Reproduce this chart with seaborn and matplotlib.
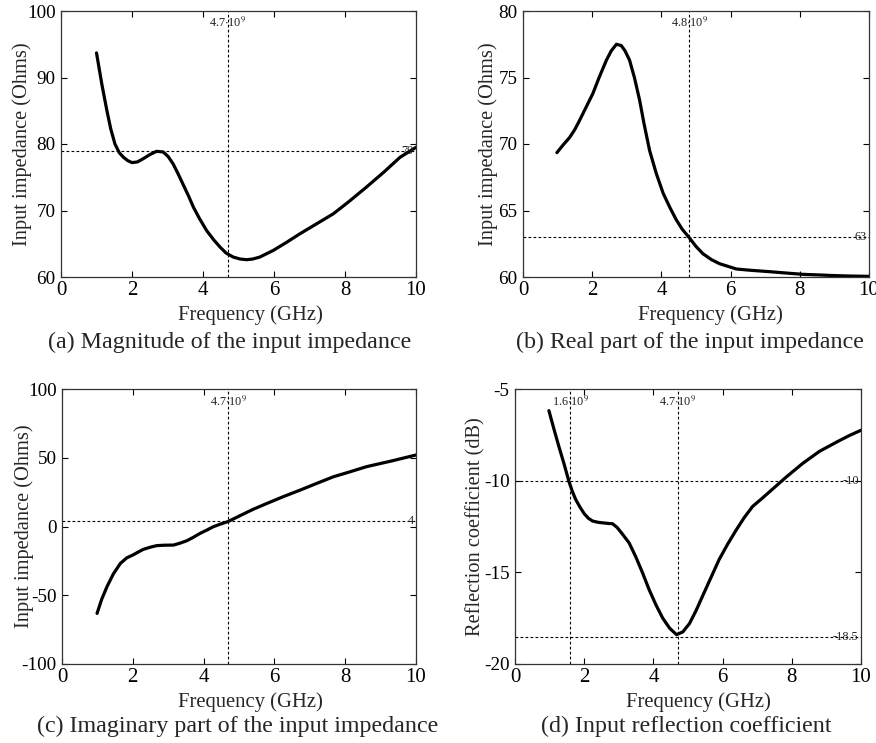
import matplotlib
matplotlib.use("Agg")
import matplotlib.pyplot as plt
import seaborn as sns
import pandas as pd

# ---------------- data ----------------
freq_a = [1.0, 1.15, 1.29, 1.4, 1.52, 1.64, 1.76, 1.88, 2.0, 2.15, 2.32, 2.5, 2.69, 2.88,
          3.02, 3.16, 3.3, 3.45, 3.6, 3.73, 3.9, 4.1, 4.3, 4.48, 4.65, 4.85, 5.05, 5.23,
          5.4, 5.6, 5.98, 6.35, 6.73, 7.2, 7.67, 8.1, 8.6, 9.1, 9.55, 10.0]
mag_a = [93.7, 89.0, 85.1, 82.3, 80.0, 78.7, 78.0, 77.5, 77.2, 77.3, 77.8, 78.4, 78.9, 78.8,
         78.1, 77.0, 75.5, 73.8, 72.1, 70.5, 68.8, 67.0, 65.6, 64.5, 63.6, 63.0, 62.7, 62.6,
         62.7, 63.0, 64.0, 65.2, 66.5, 68.0, 69.5, 71.3, 73.5, 75.8, 78.0, 79.5]

freq_b = [0.98, 1.15, 1.35, 1.5, 1.64, 1.83, 2.02, 2.2, 2.41, 2.55, 2.7, 2.84, 2.95, 3.08,
          3.22, 3.37, 3.5, 3.66, 3.85, 4.05, 4.25, 4.43, 4.6, 4.79, 5.0, 5.2, 5.45, 5.68,
          6.17, 6.6, 7.13, 7.6, 8.09, 8.6, 9.06, 9.5, 10.0]
real_b = [69.35, 69.9, 70.5, 71.1, 71.8, 72.8, 73.8, 75.0, 76.3, 77.0, 77.5, 77.4, 77.0, 76.3,
          75.0, 73.3, 71.5, 69.5, 67.8, 66.3, 65.2, 64.3, 63.6, 63.0, 62.3, 61.75, 61.3, 61.0,
          60.6, 60.5, 60.4, 60.3, 60.2, 60.15, 60.1, 60.07, 60.05]

freq_c = [0.99, 1.12, 1.27, 1.45, 1.65, 1.83, 2.02, 2.15, 2.3, 2.5, 2.68, 2.9, 3.15, 3.35,
          3.53, 3.7, 3.9, 4.1, 4.28, 4.48, 4.68, 4.85, 5.03, 5.4, 5.79, 6.25, 6.73, 7.2,
          7.67, 8.1, 8.6, 9.3, 10.0]
imag_c = [-63.2, -53.0, -43.8, -34.5, -26.8, -22.8, -20.5, -18.6, -16.6, -15.0, -13.9, -13.6,
          -13.5, -12.0, -10.3, -8.0, -5.0, -2.5, -0.1, 1.8, 3.5, 5.6, 7.9, 12.5, 16.8, 21.7,
          26.5, 31.4, 36.2, 39.5, 43.5, 47.6, 52.0]

freq_d = [0.98, 1.12, 1.27, 1.42, 1.56, 1.66, 1.76, 1.88, 2.0, 2.12, 2.24, 2.4, 2.53, 2.68,
          2.82, 2.95, 3.1, 3.3, 3.49, 3.68, 3.88, 4.08, 4.27, 4.47, 4.67, 4.85, 5.04, 5.23,
          5.42, 5.66, 5.9, 6.15, 6.39, 6.63, 6.87, 7.12, 7.36, 7.6, 7.84, 8.32, 8.8, 9.29,
          9.65, 10.0]
refl_d = [-6.18, -7.15, -8.15, -9.1, -10.05, -10.6, -11.05, -11.45, -11.8, -12.05, -12.2,
          -12.27, -12.3, -12.33, -12.35, -12.55, -12.9, -13.4, -14.15, -15.0, -15.96, -16.8,
          -17.5, -18.05, -18.4, -18.25, -17.8, -17.1, -16.3, -15.3, -14.3, -13.45, -12.7,
          -12.0, -11.4, -11.0, -10.6, -10.2, -9.8, -9.05, -8.4, -7.9, -7.55, -7.25]

ylabels = ["Input impedance (Ohms)", "Input impedance (Ohms)",
           "Input impedance (Ohms)", "Reflection coefficient (dB)"]
captions = ["(a) Magnitude of the input impedance", "(b) Real part of the input impedance",
            "(c) Imaginary part of the input impedance", "(d) Input reflection coefficient"]
ylims = [(60, 100), (60, 80), (-100, 100), (-20, -5)]
yticks = [[60, 70, 80, 90, 100], [60, 65, 70, 75, 80], [-100, -50, 0, 50, 100],
          [-20, -15, -10, -5]]
xticks = [0, 2, 4, 6, 8, 10]
vlines = [[4.7], [4.8], [4.7], [1.6, 4.7]]
vline_labels = [["4.7"], ["4.8"], ["4.7"], ["1.6", "4.7"]]
hlines = [[79], [63], [4], [-10, -18.5]]
hline_labels = [["79"], ["63"], ["4"], ["-10", "-18.5"]]

# ---------------- style ----------------
sns.set_theme(style="ticks")
plt.rcParams["font.family"] = ["Liberation Serif", "DejaVu Serif"]
plt.rcParams["mathtext.fontset"] = "stix"
plt.rcParams["axes.unicode_minus"] = False

W, H = 876, 743
fig = plt.figure(figsize=(W / 100, H / 100), dpi=100)
fig.patch.set_facecolor("white")

# pixel boxes: left, right, top, bottom
boxes = [(61, 416, 11, 277), (523, 869, 11, 277), (62, 416, 389, 664), (515, 861, 389, 664)]
xlab_xy = [(250, 315), (710, 315), (250, 702), (698, 702)]
ylab_x = [22, 488, 24, 476]
cap_xy = [(230, 342), (690, 342), (238, 726), (686, 726)]

datasets = [(freq_a, mag_a), (freq_b, real_b), (freq_c, imag_c), (freq_d, refl_d)]

for i, (fx, fy) in enumerate(datasets):
    l, r, t, b = boxes[i]
    ax = fig.add_axes([l / W, (H - b) / H, (r - l) / W, (b - t) / H])
    df = pd.DataFrame({"f": fx, "v": fy})
    sns.lineplot(data=df, x="f", y="v", ax=ax, color="black", linewidth=2.3,
                 sort=False, estimator=None)
    ax.set_xlim(0, 10)
    ax.set_ylim(*ylims[i])
    ax.set_xticks(xticks)
    ax.set_yticks(yticks[i])
    ax.tick_params(direction="in", top=True, right=True, length=4, width=0.8,
                   colors="black")
    ax.tick_params(axis="x", labelsize=15, pad=3)
    ax.tick_params(axis="y", labelsize=13.8, pad=4)
    for s in ax.spines.values():
        s.set_color("#333333")
        s.set_linewidth(0.9)
    ax.set_facecolor("white")

    for xv, lab in zip(vlines[i], vline_labels[i]):
        ax.axvline(xv, color="black", linestyle=(0, (2.5, 2)), linewidth=0.8)
        ax.text(xv, 0.955, lab + r"$\cdot$10$^9$", transform=ax.get_xaxis_transform(),
                ha="center", va="center", fontsize=8.8, color="#222222")
    for yv, lab in zip(hlines[i], hline_labels[i]):
        ax.axhline(yv, color="black", linestyle=(0, (2.5, 2)), linewidth=0.8)
        ax.text(0.993, yv, lab, transform=ax.get_yaxis_transform(),
                ha="right", va="center", fontsize=8.8, color="#222222")

    xx, xy = xlab_xy[i]
    ax.set_xlabel("Frequency (GHz)", fontsize=14.9, va="center")
    ax.xaxis.set_label_coords((xx - l) / (r - l), (b - xy) / (b - t))
    ax.set_ylabel(ylabels[i], fontsize=14.7, va="center")
    ax.yaxis.set_label_coords((ylab_x[i] - l) / (r - l), 0.5)

    cx, cy = cap_xy[i]
    fig.text(cx / W, (H - cy) / H, captions[i], ha="center", va="center", fontsize=17.3)

fig.savefig("out.png", dpi=100, facecolor="white")
